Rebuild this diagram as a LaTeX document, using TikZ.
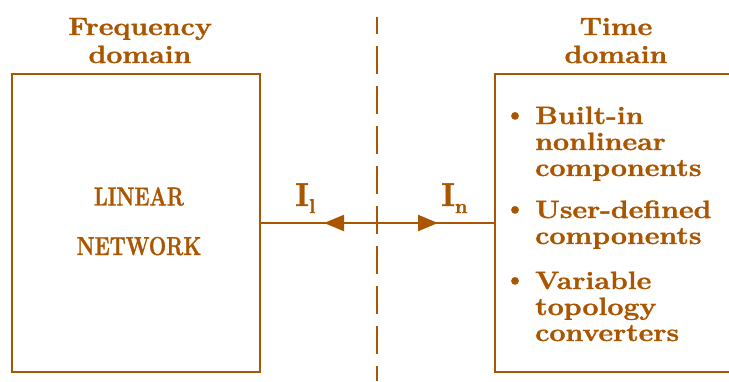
\documentclass[tikz,border=0pt]{standalone}
\usepackage{fontspec}
\setmainfont{Latin Modern Roman}[BoldFeatures={FakeBold=1.3}]
\usetikzlibrary{arrows.meta,decorations.markings}
\definecolor{rust}{RGB}{170,85,0}
\begin{document}
\begin{tikzpicture}[x=1pt,y=-1pt,
  box/.style={draw=rust,line width=2pt,inner sep=0pt,minimum height=298pt},
  ln/.style={draw=rust,line width=2pt},
  divider/.style={draw=rust,line width=2pt,dash pattern=on 28pt off 12pt,dash phase=11pt},
  hdr/.style={text=rust,font=\fontsize{25}{28}\selectfont\bfseries,align=center,inner sep=0pt,xscale=1.14,anchor=base},
  blocktext/.style={text=rust,font=\fontsize{22}{42}\selectfont\bfseries,align=center,inner sep=0pt,xscale=0.93,yscale=1.18,anchor=base},
  item/.style={text=rust,font=\fontsize{25}{26}\selectfont\bfseries,align=left,inner sep=0pt,xscale=1.14,anchor=base west},
  bul/.style={text=rust,font=\fontsize{25}{26}\selectfont\bfseries,inner sep=0pt},
  cur/.style={text=rust,font=\fontsize{33}{33}\selectfont\bfseries,inner sep=0pt,anchor=base west},
  flow/.style={ln,postaction={decorate},decoration={markings,
    mark=at position 63pt with {\arrowreversed{Triangle[length=20pt,width=16pt]}},
    mark=at position 177pt with {\arrow{Triangle[length=20pt,width=16pt]}}}}
]
\path[use as bounding box] (0,0) rectangle (729,381);
\clip (0,0) rectangle (729,381);

% frequency-domain and time-domain blocks
\node[box,minimum width=248pt] (lin) at (136,223) {};
\node[box,minimum width=280pt,anchor=west] (td) at (494,223) {};

% dashed boundary between the two domains
\coordinate (dtop) at (377,17);
\coordinate (dbot) at (377,381);
\draw[divider] (dtop) -- (dbot);

% interface currents
\draw[flow] (lin.east) -- (td.west);

% headings (anchored on the baseline of their last line)
\node[hdr] (fd) at (140,63) {Frequency\\domain};
\node[hdr] (tdh) at (616,63) {Time\\domain};

% block contents
\node[blocktext] (ln) at (139,255) {LINEAR\\NETWORK};

\node[cur] (il) at (295,206) {I\raisebox{-7pt}{\fontsize{20}{20}\selectfont l}};
\node[cur] (inl) at (441,206) {I\raisebox{-7pt}{\fontsize{20}{20}\selectfont n}};

\node[bul] (d1) at (515,117) {\textbullet};
\node[bul] (d2) at (515,211) {\textbullet};
\node[bul] (d3) at (515,282) {\textbullet};
\node[item] (t1) at (535,176) {Built-in\\nonlinear\\components};
\node[item] (t2) at (535,244) {User-defined\\components};
\node[item] (t3) at (535,341) {Variable\\topology\\converters};
\end{tikzpicture}
\end{document}
